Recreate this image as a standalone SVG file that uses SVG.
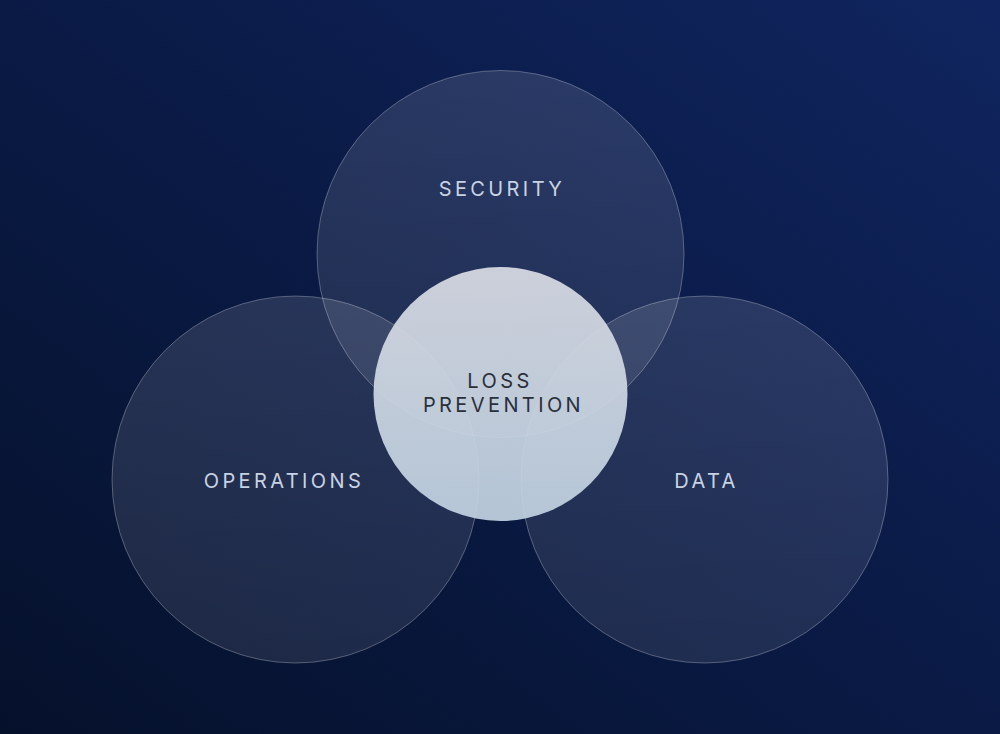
<svg xmlns="http://www.w3.org/2000/svg" width="1000" height="734" viewBox="0 0 1000 734">
  <defs>
    <linearGradient id="bg" x1="1" y1="0" x2="0" y2="1">
      <stop offset="0" stop-color="#10255f"/>
      <stop offset="0.5" stop-color="#0a1a45"/>
      <stop offset="1" stop-color="#05112b"/>
    </linearGradient>
    <linearGradient id="ring" x1="0" y1="0" x2="0" y2="1">
      <stop offset="0" stop-color="#ffffff" stop-opacity="0.12"/>
      <stop offset="1" stop-color="#ffffff" stop-opacity="0.09"/>
    </linearGradient>
    <linearGradient id="core" x1="0" y1="0" x2="0" y2="1">
      <stop offset="0" stop-color="#dadde5"/>
      <stop offset="1" stop-color="#c2d3e2"/>
    </linearGradient>
    <style>
      .set { fill: url(#ring); stroke: #ffffff; stroke-opacity: 0.28; stroke-width: 1; }
      .core { fill: url(#core); fill-opacity: 0.92; }
      .lbl { font-family: Inter, "Liberation Sans", sans-serif; font-size: 20px; letter-spacing: 3.4px; fill: #c9d2e2; text-anchor: middle; }
      .clbl { font-family: Inter, "Liberation Sans", sans-serif; font-size: 20px; letter-spacing: 3.4px; fill: #2a303a; text-anchor: middle; }
    </style>
  </defs>
  <rect width="1000" height="734" fill="url(#bg)"/>
  <g id="connectors"/>
  <g id="security">
    <circle class="set" cx="500.5" cy="254" r="183.5"/>
    <text class="lbl" x="502" y="196">SECURITY</text>
  </g>
  <g id="operations">
    <circle class="set" cx="295.5" cy="479.5" r="183.5"/>
    <text class="lbl" x="284" y="488">OPERATIONS</text>
  </g>
  <g id="data">
    <circle class="set" cx="704.5" cy="479.5" r="183.5"/>
    <text class="lbl" x="706.5" y="488">DATA</text>
  </g>
  <g id="loss-prevention">
    <circle class="core" cx="500.5" cy="394" r="127"/>
    <text class="clbl" x="500" y="388">LOSS</text>
    <text class="clbl" x="503.5" y="412">PREVENTION</text>
  </g>
</svg>
